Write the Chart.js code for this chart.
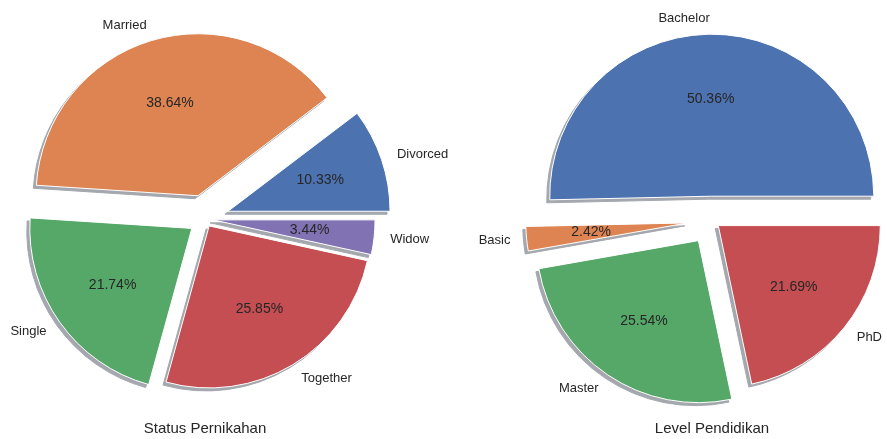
<!DOCTYPE html>
<html>
<head>
<meta charset="utf-8">
<script src="https://cdn.jsdelivr.net/npm/chart.js@4.4.0/dist/chart.umd.min.js"></script>
<style>
  html, body { margin: 0; padding: 0; background: #fff; }
  #wrap { position: relative; width: 887px; height: 439px; }
  canvas { position: absolute; top: 0; left: 0; }
</style>
</head>
<body>
<div id="wrap">
  <canvas id="statusChart" width="887" height="439"></canvas>
  <canvas id="eduChart" width="887" height="439"></canvas>
</div>
<script>
// Marital status split (percent)
const statusLabels = ['Divorced', 'Married', 'Single', 'Together', 'Widow'];
const statusPct = [10.33, 38.64, 21.74, 25.85, 3.44];
const statusExplode = [0.15, 0.15, 0.1, 0.05, 0.05];

// Education level split (percent)
const eduLabels = ['Bachelor', 'Basic', 'Master', 'PhD'];
const eduPct = [50.36, 2.42, 25.54, 21.69];
const eduExplode = [0.15, 0.15, 0.15, 0.05];

const DEEP = ['#4c72b0', '#dd8452', '#55a868', '#c44e52', '#8172b3'];
const TEXT = '#262626';
const FAMILY = "'Liberation Sans', Arial, sans-serif";

// Draws each wedge pushed out along its mid angle, with a flat drop shadow,
// then the outer labels, the inner percentages and the caption below.
const explodedPie = {
  id: 'explodedPie',
  beforeDatasetDraw(chart, args, opts) {
    const ctx = chart.ctx;
    const far = 10000;
    args.meta.data.forEach((arc, i) => {
      const mid = (arc.startAngle + arc.endAngle) / 2;
      const d = opts.explode[i] * arc.outerRadius;
      const dx = Math.cos(mid) * d, dy = Math.sin(mid) * d;
      // shadow only: draw the wedge off-canvas and throw its shadow back
      ctx.save();
      ctx.translate(dx + far, dy);
      ctx.shadowColor = '#a4a8ae';
      ctx.shadowOffsetX = -far - 3;
      ctx.shadowOffsetY = 3;
      ctx.shadowBlur = 0;
      arc.draw(ctx);
      ctx.restore();
      // the wedge itself
      ctx.save();
      ctx.translate(dx, dy);
      arc.draw(ctx);
      ctx.restore();
    });
    return false;
  },
  afterDraw(chart, args, opts) {
    const ctx = chart.ctx;
    const meta = chart.getDatasetMeta(0);
    const values = chart.data.datasets[0].data;
    ctx.save();
    ctx.fillStyle = TEXT;
    ctx.textBaseline = 'middle';
    meta.data.forEach((arc, i) => {
      const mid = (arc.startAngle + arc.endAngle) / 2;
      const r = arc.outerRadius;
      const d = opts.explode[i] * r;
      const cos = Math.cos(mid), sin = Math.sin(mid);
      // outer label
      ctx.font = '13px ' + FAMILY;
      ctx.textAlign = cos * (d + 1.1 * r) > 0 ? 'left' : 'right';
      ctx.fillText(chart.data.labels[i], arc.x + cos * (d + 1.1 * r), arc.y + sin * (d + 1.1 * r));
      // percentage inside the wedge
      ctx.font = '14px ' + FAMILY;
      ctx.textAlign = 'center';
      ctx.fillText(values[i].toFixed(2) + '%', arc.x + cos * (d + 0.6 * r), arc.y + sin * (d + 0.6 * r));
    });
    ctx.font = '15px ' + FAMILY;
    ctx.textAlign = 'center';
    ctx.fillText(opts.caption, meta.data[0].x, 429);
    ctx.restore();
  }
};

// matplotlib goes counter-clockwise from 3 o'clock; Chart.js goes clockwise,
// so feed the slices in reverse order starting at 90 degrees.
function renderPie(canvasId, labels, values, explode, colors, caption, padding) {
  const rev = a => [...a].reverse();
  return new Chart(document.getElementById(canvasId), {
    type: 'pie',
    data: {
      labels: rev(labels),
      datasets: [{
        data: rev(values),
        backgroundColor: rev(colors),
        borderColor: '#ffffff',
        borderWidth: 1,
      }]
    },
    options: {
      responsive: false,
      animation: false,
      rotation: 90,
      radius: 162,
      layout: { padding },
      events: [],
      plugins: {
        legend: { display: false },
        tooltip: { enabled: false },
        explodedPie: { explode: rev(explode), caption }
      }
    },
    plugins: [explodedPie]
  });
}

renderPie('statusChart', statusLabels, statusPct, statusExplode, DEEP.slice(0, 5),
  'Status Pernikahan', { left: 0, right: 477, top: 0, bottom: 1 });
renderPie('eduChart', eduLabels, eduPct, eduExplode, DEEP.slice(0, 4),
  'Level Pendidikan', { left: 537, right: 0, top: 2, bottom: 0 });
</script>
</body>
</html>
